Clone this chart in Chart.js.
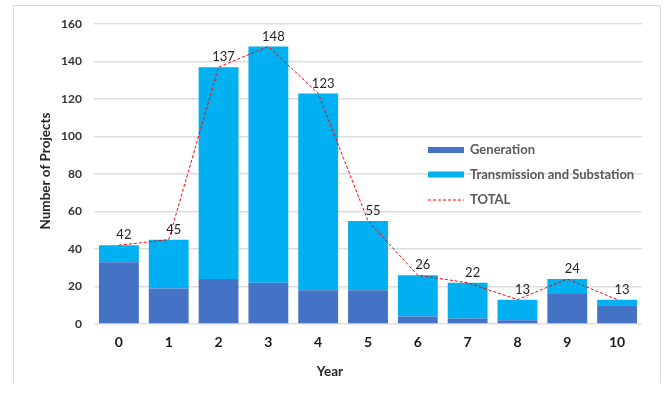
<!DOCTYPE html>
<html>
<head>
<meta charset="utf-8">
<script src="https://cdn.jsdelivr.net/npm/chart.js@4.4.1/dist/chart.umd.min.js"></script>
<style>
  html, body { margin: 0; padding: 0; background: #ffffff; }
  #wrap { width: 664px; height: 394px; position: relative; }
</style>
</head>
<body>
<div id="wrap"><canvas id="c" width="664" height="394"></canvas></div>
<script>
// Project counts by year
const years = ['0', '1', '2', '3', '4', '5', '6', '7', '8', '9', '10'];
const generation = [33, 19, 24, 22, 18, 18, 4, 3, 2, 16, 10];
const transmission = [9, 26, 113, 126, 105, 37, 22, 19, 11, 8, 3];
const totals = [42, 45, 137, 148, 123, 55, 26, 22, 13, 24, 13];
const yTicks = [0, 20, 40, 60, 80, 100, 120, 140, 160];

const FONT = 'Lato, "Liberation Sans", sans-serif';

// Light frame around the whole figure
const framePlugin = {
  id: 'frame',
  beforeDraw(chart) {
    const ctx = chart.ctx;
    ctx.save();
    ctx.strokeStyle = '#d9d9d9';
    ctx.lineWidth = 1;
    ctx.beginPath();
    ctx.moveTo(13.5, 383);
    ctx.lineTo(13.5, 5.5);
    ctx.lineTo(660.5, 5.5);
    ctx.lineTo(660.5, 383);
    ctx.stroke();
    ctx.restore();
  }
};

// Axis titles
const axisTitlePlugin = {
  id: 'axisTitles',
  afterDraw(chart) {
    const ctx = chart.ctx;
    ctx.save();
    ctx.fillStyle = '#262626';
    ctx.font = 'bold 13.5px ' + FONT;
    ctx.textAlign = 'center';
    ctx.textBaseline = 'middle';
    ctx.fillText('Year', 330, 372);
    ctx.translate(46, 171);
    ctx.rotate(-Math.PI / 2);
    ctx.fillText('Number of Projects', 0, 0);
    ctx.restore();
  }
};

// Value labels above the TOTAL line
const totalLabelPlugin = {
  id: 'totalLabels',
  afterDatasetsDraw(chart) {
    const idx = chart.data.datasets.findIndex(d => d.type === 'line');
    const meta = chart.getDatasetMeta(idx);
    const ctx = chart.ctx;
    ctx.save();
    ctx.fillStyle = '#262626';
    ctx.font = '13px ' + FONT;
    ctx.textAlign = 'center';
    ctx.textBaseline = 'middle';
    meta.data.forEach((pt, i) => {
      ctx.fillText(String(chart.data.datasets[idx].data[i]), pt.x + 5, pt.y - 10);
    });
    ctx.restore();
  }
};

// Legend drawn inside the plot area
const innerLegendPlugin = {
  id: 'innerLegend',
  afterDraw(chart) {
    const ctx = chart.ctx;
    const x0 = 428, sw = 36, tx = 470;
    const rows = [150, 174.5, 199.5];
    ctx.save();
    ctx.font = 'bold 13px ' + FONT;
    ctx.textBaseline = 'middle';
    ctx.textAlign = 'left';
    chart.data.datasets.forEach((ds, i) => {
      const y = rows[i];
      if (ds.type === 'line') {
        ctx.strokeStyle = ds.borderColor;
        ctx.lineWidth = 1;
        ctx.setLineDash([3, 2]);
        ctx.beginPath();
        ctx.moveTo(x0, y + 0.5);
        ctx.lineTo(x0 + sw, y + 0.5);
        ctx.stroke();
        ctx.setLineDash([]);
      } else {
        ctx.fillStyle = ds.backgroundColor;
        ctx.fillRect(x0, y - 3, sw, 6);
      }
      ctx.fillStyle = '#595959';
      ctx.fillText(ds.label, tx, y);
    });
    ctx.restore();
  }
};

new Chart(document.getElementById('c'), {
  data: {
    labels: years,
    datasets: [
      {
        type: 'bar',
        label: 'Generation',
        data: generation,
        backgroundColor: '#4472C4',
        stack: 'projects',
        order: 1,
        barPercentage: 0.8,
        categoryPercentage: 1.0
      },
      {
        type: 'bar',
        label: 'Transmission and Substation',
        data: transmission,
        backgroundColor: '#00B0F0',
        stack: 'projects',
        order: 1,
        barPercentage: 0.8,
        categoryPercentage: 1.0
      },
      {
        type: 'line',
        label: 'TOTAL',
        data: totals,
        borderColor: '#FF0000',
        borderWidth: 1,
        borderDash: [3, 2],
        pointRadius: 0,
        tension: 0,
        fill: false,
        stack: 'total',
        order: 0
      }
    ]
  },
  options: {
    responsive: false,
    animation: false,
    devicePixelRatio: 1,
    layout: { padding: { left: 0, right: 22, top: 24, bottom: 0 } },
    plugins: {
      legend: { display: false },
      tooltip: { enabled: false }
    },
    scales: {
      x: {
        stacked: true,
        grid: { display: false, drawTicks: false },
        border: { display: false },
        ticks: {
          color: '#1a1a1a',
          font: { family: FONT, size: 14, weight: 'bold' },
          padding: 10
        },
        afterFit(s) { s.height = 70; }
      },
      y: {
        stacked: true,
        min: 0,
        max: 160,
        afterBuildTicks(s) { s.ticks = yTicks.map(v => ({ value: v })); },
        grid: { color: '#dedede', lineWidth: 1.5, drawTicks: false },
        border: { display: false },
        ticks: {
          color: '#333333',
          font: { family: FONT, size: 12, weight: 'bold' },
          padding: 12
        },
        afterFit(s) { s.width = 94; }
      }
    }
  },
  plugins: [framePlugin, axisTitlePlugin, totalLabelPlugin, innerLegendPlugin]
});
</script>
</body>
</html>
